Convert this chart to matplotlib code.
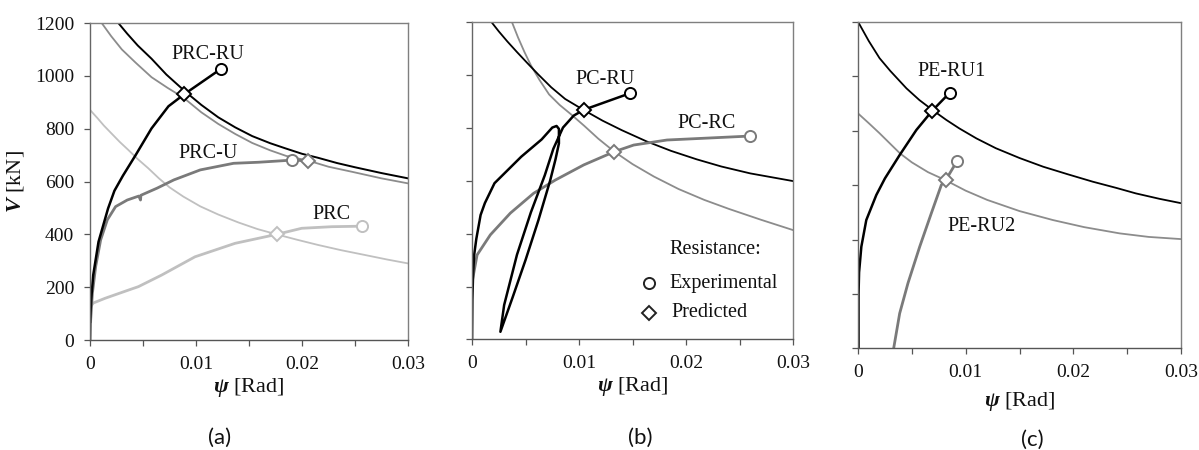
import matplotlib
matplotlib.use("Agg")
import matplotlib.pyplot as plt
from matplotlib.ticker import MultipleLocator, FixedLocator

plt.rcParams['font.family'] = ['Liberation Serif', 'DejaVu Serif']
plt.rcParams['mathtext.fontset'] = 'custom'
plt.rcParams['mathtext.it'] = 'Liberation Serif:italic:bold'
plt.rcParams['mathtext.rm'] = 'Liberation Serif'
plt.rcParams['mathtext.bf'] = 'Liberation Serif:bold'

# ---------------- Panel (a) ----------------
a_res_RU_psi = [0.00267, 0.0035, 0.0045, 0.0058, 0.0072, 0.0090, 0.0105, 0.0121, 0.0137, 0.0153, 0.0170, 0.0184,
                0.0200, 0.0215, 0.0233, 0.0250, 0.0275, 0.0300]
a_res_RU_V   = [1200, 1160, 1115, 1065, 1005, 940, 890, 843, 805, 772, 745, 726, 705, 690, 670, 654, 632, 612]
a_res_U_psi  = [0.0011, 0.0020, 0.0030, 0.0043, 0.0058, 0.0073, 0.0088, 0.0105, 0.0121, 0.0137, 0.0153, 0.0170,
                0.0185, 0.0206, 0.0225, 0.0247, 0.0275, 0.0300]
a_res_U_V    = [1200, 1150, 1100, 1050, 995, 955, 918, 862, 818, 780, 746, 718, 697, 679, 656, 637, 612, 593]
a_res_C_psi  = [0.0, 0.0007, 0.0013, 0.0020, 0.0028, 0.0036, 0.0045, 0.0055, 0.0065, 0.0075, 0.0088, 0.0104, 0.0121,
                0.0140, 0.0158, 0.0176, 0.0195, 0.0215, 0.0237, 0.0258, 0.0280, 0.0300]
a_res_C_V    = [871, 840, 812, 783, 750, 720, 685, 650, 612, 578, 543, 506, 475, 445, 420, 400, 380, 360, 340, 323, 305, 290]

a_PRCRU_psi = [0.0, 0.0001, 0.0003, 0.0008, 0.0017, 0.0023, 0.0031, 0.0043, 0.0058, 0.0074, 0.00887, 0.01233]
a_PRCRU_V   = [69, 150, 246, 372, 498, 565, 622, 700, 801, 885, 930, 1026]
a_PRCU_psi  = [0.0, 0.00006, 0.00022, 0.00053, 0.0010, 0.00163, 0.00241, 0.00351, 0.00460, 0.00476, 0.00480,
               0.00633, 0.0079, 0.0104, 0.01354, 0.0159, 0.01903, 0.0206]
a_PRCU_V    = [0, 76, 177, 278, 379, 455, 505, 530, 545, 530, 548, 575, 606, 644, 669, 673, 681, 679]
a_PRC_psi   = [0.0, 0.00005, 0.0003, 0.00142, 0.00362, 0.00456, 0.00676, 0.0099, 0.01368, 0.01761, 0.01997, 0.0228, 0.02569]
a_PRC_V     = [0, 126, 140, 158, 189, 202, 246, 315, 366, 400, 423, 429, 431]

a_exp_psi = [0.01233, 0.01903, 0.02569]
a_exp_V   = [1026, 681, 431]
a_pred_psi = [0.00887, 0.0206, 0.01761]
a_pred_V   = [930, 679, 400]

# ---------------- Panel (b) ----------------
b_res_RU_psi = [0.00178, 0.0025, 0.0033, 0.0042, 0.0052, 0.0062, 0.0074, 0.0087, 0.0104, 0.0122, 0.0140, 0.0163,
                0.0186, 0.0210, 0.0233, 0.0260, 0.0300]
b_res_RU_V   = [1200, 1163, 1125, 1085, 1042, 1000, 952, 908, 867, 826, 790, 748, 712, 680, 653, 627, 598]
b_res_RC_psi = [0.00371, 0.0043, 0.0049, 0.0055, 0.0063, 0.0072, 0.0082, 0.00925, 0.0105, 0.0118, 0.0133, 0.0150,
                0.0170, 0.0193, 0.0217, 0.0240, 0.0270, 0.0300]
b_res_RC_V   = [1200, 1140, 1085, 1035, 980, 925, 885, 850, 806, 758, 709, 662, 615, 568, 527, 493, 452, 413]

b_PCRU_psi = [0.0, 0.00003, 0.0001, 0.0002, 0.0004, 0.0008, 0.0012, 0.0021, 0.0046, 0.0065, 0.0075, 0.0079, 0.00812, 0.00812,
              0.0078, 0.0073, 0.0062, 0.0050, 0.0038, 0.00265,
              0.0030, 0.0042, 0.0055, 0.0068, 0.0076, 0.0085, 0.0095, 0.01044, 0.0148]
b_PCRU_V   = [0, 150, 250, 320, 380, 470, 515, 590, 690, 755, 800, 806, 795, 740,
              680, 600, 450, 300, 160, 29,
              130, 320, 480, 620, 720, 800, 845, 867, 930]
b_PCRC_psi = [0.0, 0.00047, 0.00171, 0.00358, 0.00576, 0.00779, 0.01044, 0.0133, 0.01511, 0.01822, 0.0229, 0.02601]
b_PCRC_V   = [215, 319, 395, 477, 552, 602, 659, 709, 734, 753, 762, 768]

b_exp_psi  = [0.0148, 0.02601]
b_exp_V    = [930, 768]
b_pred_psi = [0.01044, 0.0133]
b_pred_V   = [867, 709]

# ---------------- Panel (c) ----------------
c_res_1_psi = [0.0, 0.0010, 0.0020, 0.0030, 0.0045, 0.0057, 0.0070, 0.0082, 0.0094, 0.0110, 0.0128, 0.0150,
               0.0172, 0.0195, 0.0218, 0.0240, 0.0258, 0.0280, 0.0300]
c_res_1_V   = [1201, 1130, 1067, 1020, 956, 913, 874, 840, 809, 772, 736, 700, 668, 640, 613, 590, 570, 550, 534]
c_res_2_psi = [0.0, 0.0010, 0.0020, 0.0030, 0.0039, 0.0050, 0.0065, 0.0081, 0.0100, 0.0120, 0.0150, 0.0181,
               0.0210, 0.0243, 0.0270, 0.0300]
c_res_2_V   = [864, 828, 791, 752, 717, 684, 648, 619, 580, 546, 505, 472, 446, 423, 410, 402]

c_RU1_psi = [0.00005, 0.00005, 0.0001, 0.00031, 0.00077, 0.0017, 0.00250, 0.00387, 0.00542, 0.0069, 0.00852]
c_RU1_V   = [0, 200, 280, 374, 472, 564, 625, 711, 803, 874, 940]
c_RU2_psi = [0.00331, 0.00387, 0.00464, 0.00573, 0.00681, 0.00774, 0.00815, 0.00922]
c_RU2_V   = [0, 129, 240, 374, 497, 601, 619, 690]

c_exp_psi  = [0.00852, 0.00922]
c_exp_V    = [940, 690]
c_pred_psi = [0.0069, 0.00815]
c_pred_V   = [874, 619]

x_ticks = [0, 0.01, 0.02, 0.03]
x_ticklabels = ["0", "0.01", "0.02", "0.03"]
y_ticks = [0, 200, 400, 600, 800, 1000, 1200]

BLACK = '#000000'
GRAY_EXP = '#7a7a7a'
GRAY_RES = '#8c8c8c'
LIGHT = '#c0c0c0'
SPINE = '#7f7f7f'

fig = plt.figure(figsize=(11.99, 4.5), dpi=100)
axA = fig.add_axes([0.0751, 0.2444, 0.2652, 0.7044])
axB = fig.add_axes([0.3937, 0.2456, 0.2677, 0.7064])
axC = fig.add_axes([0.7156, 0.2256, 0.2694, 0.7256])


def style(ax, ylabels, xlabelpad=2):
    ax.set_xlim(0, 0.03)
    ax.set_ylim(0, 1200)
    ax.xaxis.set_major_locator(FixedLocator(x_ticks))
    ax.set_xticklabels(x_ticklabels)
    ax.xaxis.set_minor_locator(MultipleLocator(0.005))
    ax.yaxis.set_major_locator(FixedLocator(y_ticks))
    ax.tick_params(axis='both', which='both', direction='out', length=4.5, width=0.9,
                   color='#555555', labelsize=14, labelcolor='#111111')
    ax.tick_params(axis='x', pad=7)
    ax.tick_params(axis='y', pad=7)
    if not ylabels:
        ax.set_yticklabels([])
    for s in ax.spines.values():
        s.set_color(SPINE)
        s.set_linewidth(1.0)
    ax.spines['bottom'].set_color('#555555')
    ax.spines['left'].set_color('#666666')
    ax.set_xlabel(r"$\psi$ [Rad]", fontsize=16, color='#111111', labelpad=xlabelpad)


def mk(ax, px, py, marker, color, size=7):
    ax.plot(px, py, linestyle='none', marker=marker, markersize=size,
            markerfacecolor='white', markeredgecolor=color, markeredgewidth=1.4, zorder=5)


# ---- (a)
ax = axA
ax.plot(a_res_C_psi, a_res_C_V, color=LIGHT, lw=1.3)
ax.plot(a_res_U_psi, a_res_U_V, color=GRAY_RES, lw=1.3)
ax.plot(a_res_RU_psi, a_res_RU_V, color=BLACK, lw=1.4)
ax.plot(a_PRC_psi, a_PRC_V, color=LIGHT, lw=2.0)
ax.plot(a_PRCU_psi, a_PRCU_V, color=GRAY_EXP, lw=2.0)
ax.plot(a_PRCRU_psi, a_PRCRU_V, color=BLACK, lw=1.8)
exp_colors_a = [BLACK, GRAY_EXP, LIGHT]
for i in range(3):
    mk(ax, [a_pred_psi[i]], [a_pred_V[i]], 'D', exp_colors_a[i], 7)
    mk(ax, [a_exp_psi[i]], [a_exp_V[i]], 'o', exp_colors_a[i], 8)
ax.text(0.01116, 1081, "PRC-RU", fontsize=14.5, ha='center', va='center', color='#111111')
ax.text(0.01116, 707, "PRC-U", fontsize=14.5, ha='center', va='center', color='#111111')
ax.text(0.0228, 476, "PRC", fontsize=14.5, ha='center', va='center', color='#111111')
style(ax, True)
ax.set_ylabel(r"$V$ [kN]", fontsize=16, color='#111111', labelpad=6)

# ---- (b)
ax = axB
ax.plot(b_res_RC_psi, b_res_RC_V, color=GRAY_RES, lw=1.3)
ax.plot(b_res_RU_psi, b_res_RU_V, color=BLACK, lw=1.3)
ax.plot(b_PCRC_psi, b_PCRC_V, color=GRAY_EXP, lw=2.0)
ax.plot(b_PCRU_psi, b_PCRU_V, color=BLACK, lw=1.8)
exp_colors_b = [BLACK, GRAY_EXP]
for i in range(2):
    mk(ax, [b_pred_psi[i]], [b_pred_V[i]], 'D', exp_colors_b[i], 7)
    mk(ax, [b_exp_psi[i]], [b_exp_V[i]], 'o', exp_colors_b[i], 8)
ax.text(0.01246, 980, "PC-RU", fontsize=14.5, ha='center', va='center', color='#111111')
ax.text(0.02196, 816, "PC-RC", fontsize=14.5, ha='center', va='center', color='#111111')
# legend
ax.text(0.01843, 338, "Resistance:", fontsize=14.5, ha='left', va='center', color='#111111')
ax.plot([0.0165], [212], linestyle='none', marker='o', markersize=8, markerfacecolor='white',
        markeredgecolor='#222222', markeredgewidth=1.4)
ax.text(0.01843, 212, "Experimental", fontsize=14.5, ha='left', va='center', color='#111111')
ax.plot([0.0165], [100], linestyle='none', marker='D', markersize=7, markerfacecolor='white',
        markeredgecolor='#222222', markeredgewidth=1.4)
ax.text(0.0186, 100, "Predicted", fontsize=14.5, ha='left', va='center', color='#111111')
style(ax, False)

# ---- (c)
ax = axC
ax.plot(c_res_2_psi, c_res_2_V, color=GRAY_RES, lw=1.3)
ax.plot(c_res_1_psi, c_res_1_V, color=BLACK, lw=1.3)
ax.plot(c_RU2_psi, c_RU2_V, color=GRAY_EXP, lw=2.0)
ax.plot(c_RU1_psi, c_RU1_V, color=BLACK, lw=1.8)
exp_colors_c = [BLACK, GRAY_EXP]
for i in range(2):
    mk(ax, [c_pred_psi[i]], [c_pred_V[i]], 'D', exp_colors_c[i], 7)
    mk(ax, [c_exp_psi[i]], [c_exp_V[i]], 'o', exp_colors_c[i], 8)
ax.text(0.00867, 1017, "PE-RU1", fontsize=14.5, ha='center', va='center', color='#111111')
ax.text(0.01145, 448, "PE-RU2", fontsize=14.5, ha='center', va='center', color='#111111')
style(ax, False, xlabelpad=6)

# captions
for xc, yc, lab in [(220, 438, "(a)"), (640, 438, "(b)"), (1032, 440, "(c)")]:
    fig.text(xc / 1199, 1 - yc / 450, lab, fontsize=16, ha='center', va='center',
             family=['Lato', 'DejaVu Sans'], color='#111111')

fig.savefig("out.png", dpi=100)
